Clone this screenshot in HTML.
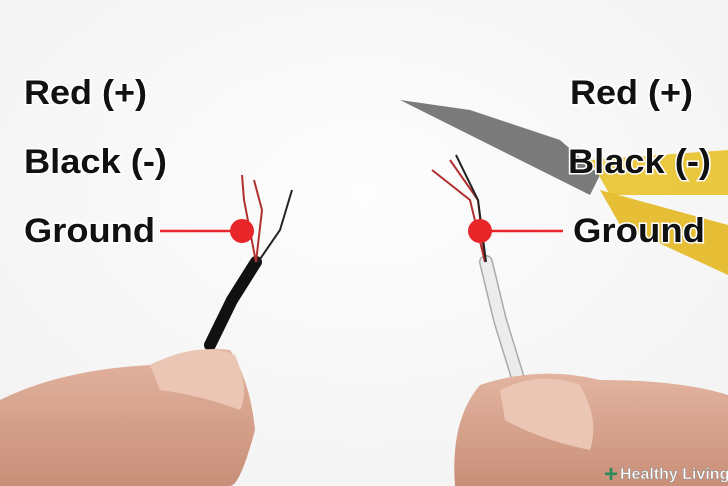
<!DOCTYPE html>
<html><head><meta charset="utf-8"><style>
html,body{margin:0;padding:0;width:728px;height:486px;overflow:hidden;background:#fff}
svg{display:block}
.t{font-family:"Liberation Sans",sans-serif;font-weight:bold;font-size:34px;fill:#111;stroke:#fff;stroke-width:3px;paint-order:stroke}
</style></head><body>
<svg width="728" height="486" viewBox="0 0 728 486" xmlns="http://www.w3.org/2000/svg">
<defs>
<radialGradient id="bg" cx="0.5" cy="0.4" r="0.8"><stop offset="0" stop-color="#fdfdfd"/><stop offset="1" stop-color="#f1f1f1"/></radialGradient>
<linearGradient id="skin" x1="0" y1="0" x2="0" y2="1"><stop offset="0" stop-color="#e2b4a0"/><stop offset="1" stop-color="#c98f78"/></linearGradient>
</defs>
<rect width="728" height="486" fill="url(#bg)"/>
<!-- pliers -->
<path d="M400 100 L470 110 L560 140 L600 175 L590 195 L540 170 L460 130 Z" fill="#5a5a5a" opacity="0.8"/>
<path d="M590 160 L728 150 L728 195 L610 195 Z" fill="#e8c22a" opacity="0.9"/>
<path d="M600 190 L728 225 L728 275 L620 225 Z" fill="#e3b820" opacity="0.9"/>
<!-- cables -->
<path d="M256 262 L232 300 L210 345" stroke="#111" stroke-width="12" fill="none" stroke-linecap="round"/>
<path d="M486 262 L500 320 L520 385" stroke="#aaa" stroke-width="14" fill="none" stroke-linecap="round"/>
<path d="M486 262 L500 320 L520 385" stroke="#ececec" stroke-width="11" fill="none" stroke-linecap="round"/>
<!-- wires left -->
<path d="M256 262 L244 200 L242 175" stroke="#b03030" stroke-width="2" fill="none"/>
<path d="M256 262 L262 210 L254 180" stroke="#b03030" stroke-width="2" fill="none"/>
<path d="M258 262 L280 230 L292 190" stroke="#222" stroke-width="2" fill="none"/>
<!-- wires right -->
<path d="M485 262 L470 200 L432 170" stroke="#b03030" stroke-width="2" fill="none"/>
<path d="M485 262 L478 200 L450 160" stroke="#b03030" stroke-width="2" fill="none"/>
<path d="M486 262 L478 200 L456 155" stroke="#222" stroke-width="2" fill="none"/>
<!-- hands -->
<path d="M0 400 Q60 370 150 365 Q190 345 230 350 Q250 380 255 430 Q240 486 230 486 L0 486 Z" fill="url(#skin)"/>
<path d="M150 365 Q200 340 235 355 Q250 390 240 410 Q200 395 160 390 Z" fill="#ecc6b4"/>
<path d="M728 395 Q680 380 600 380 Q540 365 480 385 Q450 420 455 486 L728 486 Z" fill="url(#skin)"/>
<path d="M500 390 Q540 370 580 385 Q600 420 590 450 Q540 440 505 420 Z" fill="#ecc6b4"/>
<!-- labels -->
<text class="t" x="24" y="104" textLength="123" lengthAdjust="spacingAndGlyphs">Red (+)</text>
<text class="t" x="24" y="173" textLength="143" lengthAdjust="spacingAndGlyphs">Black (-)</text>
<text class="t" x="24" y="242" textLength="131" lengthAdjust="spacingAndGlyphs">Ground</text>
<text class="t" x="570" y="104" textLength="123" lengthAdjust="spacingAndGlyphs">Red (+)</text>
<text class="t" x="568" y="173" textLength="143" lengthAdjust="spacingAndGlyphs">Black (-)</text>
<text class="t" x="573" y="242" textLength="132" lengthAdjust="spacingAndGlyphs">Ground</text>
<line x1="160" y1="231" x2="242" y2="231" stroke="#e8262a" stroke-width="2.5"/>
<circle cx="242" cy="231" r="12" fill="#e8262a"/>
<line x1="480" y1="231" x2="563" y2="231" stroke="#e8262a" stroke-width="2.5"/>
<circle cx="480" cy="231" r="12" fill="#e8262a"/>
<!-- logo -->
<text x="604" y="482" font-family="Liberation Sans,sans-serif" font-size="24" fill="#2e8b57" font-weight="bold">+</text>
<text x="620" y="479" font-family="Liberation Sans,sans-serif" font-size="16" fill="#fff" font-weight="bold" stroke="#888" stroke-width="0.5">Healthy Living</text>
</svg>
</body></html>
